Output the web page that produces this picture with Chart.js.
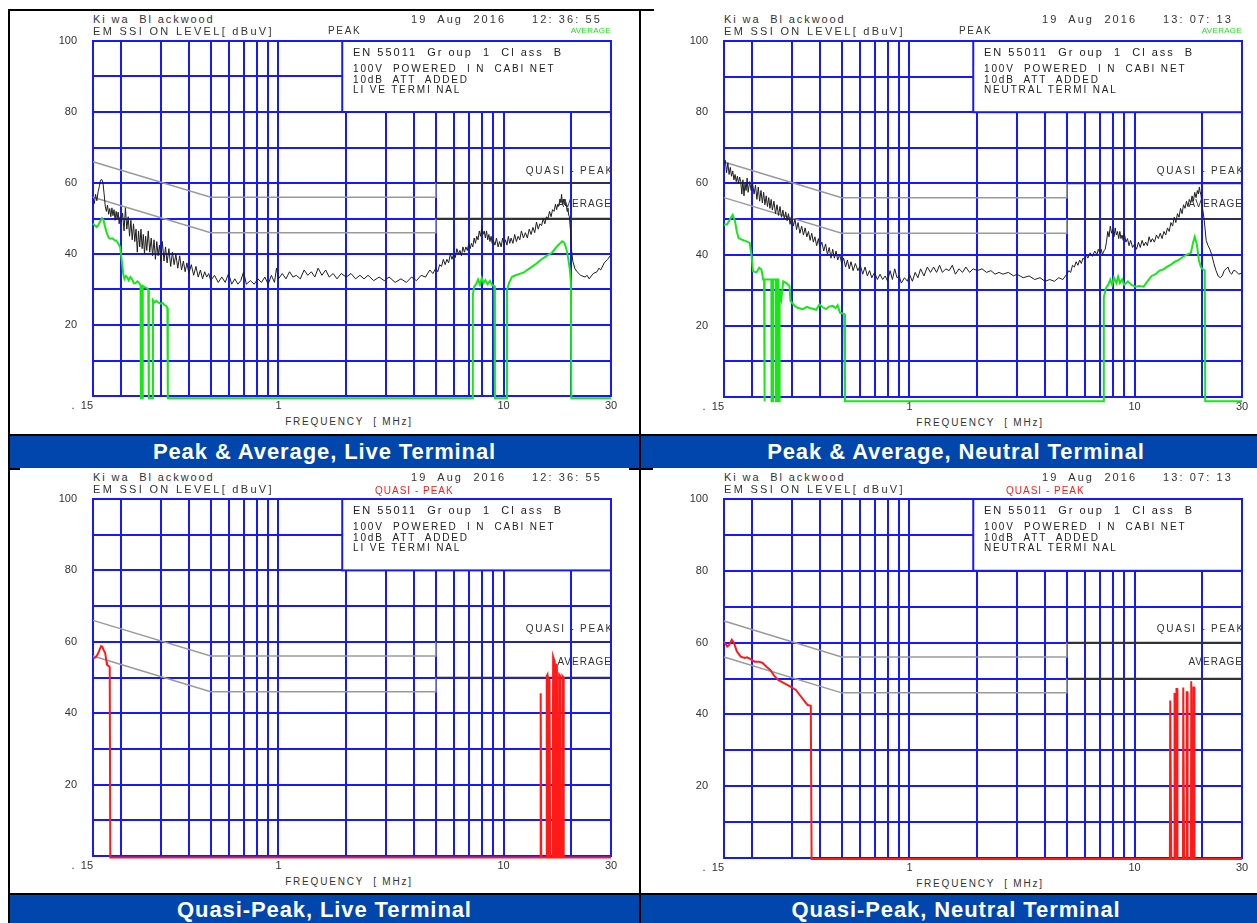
<!DOCTYPE html>
<html><head><meta charset="utf-8">
<script src="https://cdn.jsdelivr.net/npm/chart.js@4.4.1/dist/chart.umd.min.js"></script>
<style>
html,body{margin:0;padding:0;background:#fff;}
body{width:1257px;height:923px;position:relative;overflow:hidden;font-family:"Liberation Sans",Arial,sans-serif;}
canvas{position:absolute;}
.t{position:absolute;white-space:pre;line-height:1;color:#333;}
.hdr{font-size:11px;letter-spacing:2.1px;}
.box{font-size:11px;letter-spacing:2px;color:#222;}
.cap{position:absolute;background:#0046ad;color:#fff;font-weight:bold;font-size:22px;letter-spacing:0.9px;text-align:center;line-height:31px;}
.bl{position:absolute;background:#000;}
</style>
</head><body>
<canvas id="c0" width="588" height="380" style="left:33px;top:36px"></canvas>
<canvas id="c1" width="588" height="381" style="left:664px;top:36px"></canvas>
<canvas id="c2" width="588" height="382" style="left:33px;top:494px"></canvas>
<canvas id="c3" width="588" height="384" style="left:664px;top:494px"></canvas>
<script>
// ---- axis tick values / labels ----
const freqTicks = [0.15,0.2,0.3,0.4,0.5,0.6,0.7,0.8,0.9,1,2,3,4,5,6,7,8,9,10,20,30];
const freqTickLabels = {'0.15':'.  15       ','1':'1','10':'10','30':'30'};
const levelLabels = [20,40,60,80,100];

// ---- EN 55011 Class B limit lines [MHz, dBuV] ----
const qpLimit  = [[0.15,66],[0.5,56],[5,56],[5,60],[30,60]];
const avgLimit = [[0.15,56],[0.5,46],[5,46],[5,50],[30,50]];

// ---- Live terminal, peak (black) ----
const tlPeak = [[0.150,55.5],[0.152,54.2],[0.154,56.8],[0.156,55.0],[0.158,57.5],[0.160,59.0],[0.162,60.8],[0.164,61.0],[0.166,60.2],[0.168,57.0],[0.170,53.5],[0.172,52.0],[0.174,53.8],[0.176,51.2],[0.178,52.8],[0.180,50.5],[0.182,53.0],[0.184,50.8],[0.186,52.5],[0.188,49.5],[0.190,52.0],[0.192,50.0],[0.194,51.8],[0.196,48.5],[0.198,50.5],[0.200,49.0],[0.203,51.5],[0.206,46.5],[0.209,53.0],[0.212,47.0],[0.215,50.5],[0.218,45.0],[0.221,49.5],[0.224,44.0],[0.227,48.5],[0.230,43.5],[0.233,47.0],[0.236,40.5],[0.239,46.5],[0.242,42.0],[0.245,47.0],[0.248,41.5],[0.251,45.5],[0.254,40.0],[0.257,45.0],[0.260,41.0],[0.264,46.5],[0.268,40.5],[0.272,44.5],[0.276,39.5],[0.280,44.0],[0.284,38.5],[0.288,43.5],[0.292,39.5],[0.296,42.5],[0.300,38.0],[0.305,43.5],[0.310,38.0],[0.315,42.0],[0.320,37.5],[0.326,41.5],[0.332,36.5],[0.338,40.5],[0.344,37.0],[0.350,40.0],[0.357,36.0],[0.364,39.5],[0.371,35.5],[0.378,38.0],[0.385,35.0],[0.392,37.5],[0.400,34.5],[0.41,37.0],[0.42,34.0],[0.43,36.5],[0.44,33.5],[0.45,35.5],[0.46,33.0],[0.47,35.0],[0.48,33.5],[0.49,34.5],[0.50,32.5],[0.52,34.0],[0.54,32.0],[0.56,33.5],[0.58,32.0],[0.60,34.5],[0.62,31.5],[0.64,33.0],[0.66,31.5],[0.68,32.5],[0.70,35.0],[0.72,31.5],[0.75,32.5],[0.78,31.5],[0.81,33.0],[0.84,32.0],[0.87,33.5],[0.90,31.5],[0.93,34.0],[0.96,32.0],[0.98,36.0],[1.00,33.0],[1.04,34.5],[1.08,33.0],[1.12,35.0],[1.16,33.5],[1.20,34.0],[1.25,33.0],[1.30,35.5],[1.35,34.0],[1.40,35.0],[1.45,33.5],[1.50,36.0],[1.56,34.0],[1.62,35.5],[1.68,33.5],[1.75,34.5],[1.82,33.0],[1.90,34.5],[2.00,33.5],[2.1,34.5],[2.2,33.0],[2.3,34.0],[2.4,33.0],[2.5,34.0],[2.65,32.5],[2.8,33.5],[2.95,32.5],[3.1,33.5],[3.3,32.0],[3.5,33.0],[3.7,32.0],[3.9,33.5],[4.1,32.5],[4.3,34.0],[4.5,33.5],[4.7,35.5],[4.85,34.5],[5.0,36.0],[5.1,35.0],[5.2,37.0],[5.3,36.5],[5.4,38.5],[5.5,37.0],[5.6,38.5],[5.7,37.5],[5.8,40.0],[5.9,38.5],[6.0,40.0],[6.1,39.0],[6.2,41.5],[6.3,40.0],[6.4,41.0],[6.5,39.5],[6.6,42.0],[6.7,40.5],[6.8,42.0],[6.9,41.0],[7.0,43.0],[7.1,41.5],[7.2,43.0],[7.3,42.0],[7.4,44.5],[7.5,43.0],[7.6,45.0],[7.7,44.0],[7.8,46.5],[7.9,45.0],[8.0,47.5],[8.1,45.5],[8.2,46.5],[8.3,44.5],[8.4,46.5],[8.5,44.0],[8.6,45.5],[8.7,43.5],[8.8,45.0],[8.9,43.0],[9.0,44.0],[9.15,42.5],[9.3,44.5],[9.45,42.0],[9.6,43.5],[9.75,42.0],[9.9,44.5],[10.05,42.5],[10.2,44.0],[10.35,42.5],[10.5,45.0],[10.65,43.0],[10.8,44.5],[11.0,43.0],[11.2,45.5],[11.4,43.5],[11.6,45.0],[11.8,44.0],[12.0,46.5],[12.25,44.5],[12.5,46.0],[12.75,44.5],[13.0,47.0],[13.25,45.5],[13.5,47.5],[13.75,46.0],[14.0,49.0],[14.25,47.0],[14.5,48.5],[14.75,48.0],[15.0,50.0],[15.25,48.5],[15.5,50.5],[15.75,50.0],[16.0,52.0],[16.25,50.5],[16.5,52.5],[16.75,52.0],[17.0,54.0],[17.2,52.5],[17.4,54.0],[17.6,53.5],[17.8,55.5],[17.95,54.5],[18.1,56.8],[18.25,54.0],[18.4,55.5],[18.55,54.0],[18.7,55.5],[18.85,53.5],[19.0,54.0],[19.15,52.0],[19.3,53.0],[19.45,51.0],[19.6,50.5],[19.8,47.0],[20.0,41.5],[20.3,38.0],[20.7,36.0],[21.2,35.0],[22.0,34.0],[23.0,33.5],[23.5,34.0],[24.0,33.0],[25.0,34.5],[26.0,35.0],[26.5,36.0],[27.0,35.5],[28.0,37.5],[29.0,38.5],[30.0,39.8]];

// ---- Live terminal, average (green) ----
const tlAvg = [[0.150,48.6],[0.153,48.0],[0.156,47.6],[0.159,48.3],[0.162,49.4],[0.1645,50.1],[0.167,49.6],[0.170,47.5],[0.173,45.8],[0.176,44.6],[0.179,44.3],[0.183,44.4],[0.187,43.9],[0.190,43.8],[0.194,43.0],[0.198,42.0],[0.201,38.5],[0.2046,34.2],[0.207,33.0],[0.210,33.8],[0.213,33.4],[0.216,32.6],[0.220,33.5],[0.224,32.8],[0.228,31.7],[0.232,31.8],[0.236,32.3],[0.240,31.9],[0.244,31.2],[0.2447,-0.6],[0.249,-0.6],[0.2495,31.0],[0.255,30.6],[0.260,30.4],[0.264,30.0],[0.2655,-0.6],[0.2765,-0.6],[0.277,27.0],[0.282,26.4],[0.287,26.8],[0.293,26.3],[0.300,26.0],[0.306,26.2],[0.312,25.6],[0.317,25.4],[0.321,24.8],[0.3225,-0.6],[7.25,-0.6],[7.30,28.5],[7.40,30.8],[7.55,31.5],[7.7,32.8],[7.85,31.4],[8.0,33.2],[8.15,31.8],[8.3,32.6],[8.5,31.5],[8.7,32.4],[8.9,31.2],[9.1,31.0],[9.15,-0.6],[10.3,-0.6],[10.35,29.8],[10.6,32.0],[10.9,33.6],[11.3,34.0],[11.8,34.4],[12.3,34.8],[12.8,35.6],[13.3,36.3],[13.8,37.0],[14.3,37.8],[14.8,38.6],[15.3,39.2],[15.8,39.8],[16.3,40.2],[16.8,41.2],[17.3,42.2],[17.8,43.0],[18.2,43.6],[18.6,43.2],[19.0,41.5],[19.4,38.5],[19.7,35.5],[19.9,32.0],[20.0,-0.6],[30,-0.6]];

// ---- Neutral terminal, peak (black) ----
const trPeak = [[0.150,65.5],[0.152,66.5],[0.154,63.0],[0.156,65.8],[0.158,62.5],[0.160,64.5],[0.162,62.0],[0.164,63.5],[0.166,61.0],[0.168,62.5],[0.170,60.5],[0.172,62.0],[0.174,60.0],[0.176,61.8],[0.178,60.5],[0.180,57.0],[0.182,61.0],[0.184,56.5],[0.186,60.0],[0.188,58.0],[0.190,61.5],[0.192,57.5],[0.195,60.5],[0.198,58.0],[0.201,60.0],[0.204,57.0],[0.207,59.5],[0.210,55.5],[0.213,59.0],[0.216,55.0],[0.219,58.0],[0.222,54.5],[0.225,57.5],[0.228,54.0],[0.231,56.5],[0.234,53.5],[0.237,56.0],[0.240,53.0],[0.243,55.5],[0.246,52.5],[0.250,55.0],[0.254,51.5],[0.258,54.0],[0.262,51.0],[0.266,53.5],[0.270,50.5],[0.274,52.5],[0.278,50.0],[0.282,52.0],[0.286,49.5],[0.290,51.5],[0.295,48.5],[0.300,51.0],[0.305,48.0],[0.310,50.0],[0.315,47.0],[0.320,49.0],[0.326,46.0],[0.332,48.0],[0.338,45.5],[0.344,47.5],[0.350,45.0],[0.356,46.5],[0.362,44.0],[0.368,46.0],[0.374,43.5],[0.380,45.0],[0.387,42.5],[0.394,44.5],[0.400,42.0],[0.408,43.5],[0.416,41.0],[0.424,43.0],[0.432,40.0],[0.440,42.0],[0.448,39.0],[0.456,41.5],[0.464,39.0],[0.472,41.0],[0.480,38.5],[0.490,40.0],[0.500,37.5],[0.510,39.0],[0.520,36.5],[0.530,38.5],[0.540,36.0],[0.550,38.0],[0.562,35.5],[0.575,37.5],[0.590,35.5],[0.605,37.0],[0.620,34.5],[0.635,36.5],[0.650,34.0],[0.665,35.5],[0.680,33.5],[0.700,35.0],[0.720,33.0],[0.740,34.5],[0.760,33.0],[0.780,34.0],[0.800,32.5],[0.820,35.5],[0.840,33.0],[0.860,36.0],[0.880,33.5],[0.900,34.0],[0.920,32.0],[0.950,33.5],[0.980,32.5],[1.00,34.5],[1.03,32.5],[1.06,35.0],[1.09,33.5],[1.12,36.0],[1.16,34.0],[1.20,36.5],[1.24,35.0],[1.28,36.5],[1.32,35.0],[1.36,37.0],[1.40,35.0],[1.45,36.0],[1.50,35.5],[1.55,37.0],[1.60,34.5],[1.66,36.0],[1.72,35.0],[1.78,36.5],[1.85,35.0],[1.92,36.0],[2.00,35.5],[2.1,36.0],[2.2,35.0],[2.3,35.5],[2.4,34.5],[2.5,35.0],[2.6,34.5],[2.75,35.0],[2.9,34.0],[3.0,34.5],[3.2,33.5],[3.4,34.0],[3.6,33.0],[3.8,33.5],[4.0,32.5],[4.2,33.0],[4.4,32.5],[4.6,33.5],[4.8,33.0],[5.0,34.5],[5.1,35.5],[5.2,35.0],[5.3,37.0],[5.4,36.5],[5.5,38.0],[5.6,37.0],[5.7,38.5],[5.8,37.5],[5.9,39.0],[6.0,38.5],[6.1,40.0],[6.2,39.0],[6.35,40.5],[6.5,39.5],[6.65,41.0],[6.8,40.0],[6.9,41.5],[7.0,40.5],[7.1,41.5],[7.2,40.0],[7.3,41.0],[7.4,41.5],[7.5,43.5],[7.6,46.5],[7.7,45.0],[7.8,48.0],[7.9,46.0],[8.0,47.0],[8.1,45.0],[8.2,47.5],[8.3,45.5],[8.4,46.5],[8.5,44.5],[8.6,46.5],[8.7,44.5],[8.8,45.5],[8.9,44.0],[9.0,46.0],[9.15,43.5],[9.3,44.5],[9.45,42.5],[9.6,44.0],[9.8,42.0],[10.0,43.0],[10.2,41.5],[10.4,43.5],[10.6,42.0],[10.8,44.0],[11.0,42.5],[11.2,43.5],[11.4,42.5],[11.6,45.0],[11.8,43.5],[12.0,44.5],[12.25,43.5],[12.5,45.5],[12.75,44.5],[13.0,46.0],[13.25,44.5],[13.5,46.5],[13.75,45.5],[14.0,47.5],[14.25,46.5],[14.5,49.0],[14.75,48.0],[15.0,50.5],[15.25,49.0],[15.5,51.5],[15.75,50.5],[16.0,53.0],[16.25,51.5],[16.5,54.0],[16.75,53.0],[17.0,55.0],[17.25,53.5],[17.5,55.5],[17.75,54.5],[18.0,56.5],[18.25,55.0],[18.5,57.5],[18.75,56.0],[19.0,58.0],[19.2,57.0],[19.4,59.0],[19.55,57.5],[19.7,57.0],[20.0,53.5],[20.4,49.5],[20.8,44.0],[21.2,42.5],[21.6,41.5],[22.0,40.0],[22.5,37.5],[23.0,35.5],[23.5,34.0],[24.0,33.5],[24.5,34.0],[25.0,35.5],[25.5,36.0],[26.0,36.5],[26.5,35.0],[27.0,34.5],[27.5,35.5],[28.0,35.5],[29.0,34.5],[30.0,34.8]];

// ---- Neutral terminal, average (green) ----
const trAvg = [[0.150,48.4],[0.155,48.5],[0.159,49.8],[0.164,51.2],[0.168,49.3],[0.171,46.5],[0.174,44.7],[0.180,44.2],[0.189,43.7],[0.195,43.3],[0.199,39.5],[0.202,35.3],[0.209,35.0],[0.215,36.3],[0.220,35.8],[0.224,33.0],[0.226,33.0],[0.2262,-1.2],[0.2275,-1.2],[0.228,33.0],[0.239,33.0],[0.2435,33.0],[0.244,-1.2],[0.247,-1.2],[0.2476,33.0],[0.2544,33.0],[0.255,-1.2],[0.2575,-1.2],[0.258,33.0],[0.2615,33.0],[0.262,-1.2],[0.264,-1.2],[0.265,30.0],[0.2696,27.5],[0.275,32.5],[0.284,32.0],[0.293,31.2],[0.296,27.0],[0.309,25.6],[0.320,25.0],[0.336,24.7],[0.350,25.3],[0.360,25.0],[0.372,24.8],[0.385,24.5],[0.398,26.0],[0.412,25.2],[0.426,24.7],[0.440,25.4],[0.456,25.6],[0.470,25.0],[0.4796,25.8],[0.491,23.7],[0.513,23.3],[0.517,-1.2],[7.28,-1.2],[7.30,28.0],[7.45,30.5],[7.63,31.5],[7.8,33.0],[7.95,31.5],[8.1,33.5],[8.3,32.0],[8.45,33.8],[8.61,32.0],[8.8,33.0],[9.0,31.5],[9.34,32.5],[9.7,31.5],[10.1,31.0],[10.5,31.2],[10.97,31.0],[11.4,32.5],[11.9,34.0],[12.4,34.5],[12.9,35.5],[13.4,35.8],[13.97,36.6],[14.5,37.2],[15.1,38.0],[15.7,38.5],[16.4,39.4],[17.1,40.0],[17.8,40.5],[18.2,43.5],[18.5,45.0],[18.9,43.0],[19.3,38.5],[19.7,36.5],[20.0,36.0],[20.5,35.5],[20.6,-1.2],[30,-1.2]];

// ---- Quasi-peak (red) ----
const blQp = [[0.150,55.4],[0.154,55.6],[0.158,56.7],[0.161,58.0],[0.163,58.8],[0.165,58.6],[0.167,57.8],[0.170,56.8],[0.172,54.5],[0.173,53.6],[0.177,53.1],[0.178,53.0],[0.179,-0.4],[14.55,-0.4],[14.58,45.6],[14.65,45.6],[14.7,-0.4],[15.5,-0.4],[15.55,50.5],[15.65,50.8],[15.7,-0.4],[15.85,-0.4],[15.9,49.5],[16.0,49.3],[16.1,-0.4],[16.5,-0.4],[16.6,55.8],[16.75,55.0],[16.85,-0.4],[17.05,-0.4],[17.1,53.6],[17.25,53.4],[17.35,-0.4],[17.6,-0.4],[17.65,50.8],[17.8,50.5],[17.9,-0.4],[18.2,-0.4],[18.25,50.4],[18.45,50.0],[18.5,-0.4],[30,-0.4]];
const brQp = [[0.150,60.3],[0.155,58.9],[0.158,59.3],[0.1625,60.8],[0.166,60.0],[0.171,57.6],[0.178,56.1],[0.1855,55.7],[0.190,55.9],[0.197,55.4],[0.205,54.7],[0.2136,54.7],[0.222,54.4],[0.2315,53.3],[0.241,52.4],[0.251,50.7],[0.261,49.6],[0.277,48.7],[0.2946,47.8],[0.313,46.8],[0.3255,45.4],[0.339,44.0],[0.353,42.6],[0.3645,42.4],[0.3675,-0.3],[14.35,-0.3],[14.4,43.9],[14.5,43.9],[14.55,-0.3],[15.0,-0.3],[15.05,45.7],[15.15,45.7],[15.25,-0.3],[15.3,-0.3],[15.35,47.1],[15.45,47.1],[15.5,-0.3],[16.4,-0.3],[16.45,47.5],[16.55,47.5],[16.6,-0.3],[17.0,-0.3],[17.05,46.2],[17.15,46.2],[17.2,-0.3],[17.8,-0.3],[17.85,49.2],[17.95,49.2],[18.0,-0.3],[18.2,-0.3],[18.25,47.5],[18.4,47.5],[18.45,-0.3],[30,-0.3]];

// ---- panel texts ----
const panelTitles = ['Peak & Average, Live Terminal','Peak & Average, Neutral Terminal','Quasi-Peak, Live Terminal','Quasi-Peak, Neutral Terminal'];
const panelTimes = ['12: 36: 55','13: 07: 13','12: 36: 55','13: 07: 13'];
const panelTerminals = ['LI VE TERMI NAL','NEUTRAL TERMI NAL','LI VE TERMI NAL','NEUTRAL TERMI NAL'];

const BLUE = '#1818ff';
const GREEN = '#19e619';
const RED = '#ff1a1a';
const BOX_FREQ = 1.92;

Chart.defaults.font.family = '"Liberation Sans", Arial, sans-serif';

const boxPlugin = {
  id: 'infobox',
  beforeDatasetsDraw(chart) {
    const {ctx, scales: {x, y}} = chart;
    const x1 = x.getPixelForValue(BOX_FREQ), x2 = x.getPixelForValue(30);
    const y1 = y.getPixelForValue(100), y2 = y.getPixelForValue(80);
    ctx.save();
    ctx.fillStyle = '#fff';
    ctx.fillRect(x1, y1, x2 - x1, y2 - y1);
    ctx.strokeStyle = BLUE; ctx.lineWidth = 2;
    ctx.strokeRect(x1, y1, x2 - x1, y2 - y1);
    ctx.restore();
  }
};

function pts(a) { return a.map(p => ({x: p[0], y: p[1]})); }
const limitSeg = {borderColor: c => (c.p0.parsed.x >= 5 && c.p1.parsed.x > 5) ? '#333' : '#9a9a9a'};
function lineSet(arr, color, width, order) {
  return {data: pts(arr), borderColor: color, borderWidth: width, order: order, showLine: true,
          pointRadius: 0, tension: 0, clip: {left: 2, top: 2, right: 2, bottom: 6}};
}
function limitSets() {
  return [Object.assign(lineSet(qpLimit, '#9a9a9a', 1.5, 9), {segment: limitSeg}),
          Object.assign(lineSet(avgLimit, '#9a9a9a', 1.5, 9), {segment: limitSeg})];
}

function makeChart(id, datasets) {
  new Chart(document.getElementById(id), {
    type: 'scatter',
    data: {datasets: datasets},
    options: {
      responsive: false, animation: false, devicePixelRatio: 1,
      layout: {padding: {top: 5, right: 10, left: 0, bottom: 0}},
      plugins: {legend: {display: false}, tooltip: {enabled: false}},
      scales: {
        x: {
          type: 'logarithmic', min: 0.15, max: 30,
          afterBuildTicks: ax => { ax.ticks = freqTicks.map(v => ({value: v})); },
          afterFit: ax => { ax.height = 20; ax.paddingLeft = 0; ax.paddingRight = 0; ax.paddingTop = 0; ax.paddingBottom = 0; },
          grid: {color: BLUE, lineWidth: 2, drawTicks: false},
          border: {color: BLUE, width: 2},
          ticks: {autoSkip: false, maxRotation: 0, padding: 3, color: '#333', font: {size: 11},
                  callback: v => freqTickLabels[String(v)] || ''}
        },
        y: {
          min: 0, max: 100,
          afterFit: ax => { ax.width = 60; ax.paddingTop = 0; ax.paddingBottom = 0; ax.paddingLeft = 0; ax.paddingRight = 0; },
          grid: {color: BLUE, lineWidth: 2, drawTicks: false},
          border: {color: BLUE, width: 2},
          ticks: {stepSize: 10, padding: 16, color: '#333', font: {size: 11},
                  callback: v => levelLabels.includes(v) ? String(v) : ''}
        }
      }
    },
    plugins: [boxPlugin]
  });
}

makeChart('c0', [...limitSets(), lineSet(tlPeak, '#1e1e1e', 1, 2), lineSet(tlAvg, GREEN, 2, 1)]);
makeChart('c1', [...limitSets(), lineSet(trPeak, '#1e1e1e', 1, 2), lineSet(trAvg, GREEN, 2, 1)]);
makeChart('c2', [...limitSets(), lineSet(blQp, RED, 2, 1)]);
makeChart('c3', [...limitSets(), lineSet(brQp, RED, 2, 1)]);

// ---- HTML text and frame ----
const plots = [
  {L: 93, T: 41, R: 611, B: 396},
  {L: 724, T: 41, R: 1242, B: 397},
  {L: 93, T: 499, R: 611, B: 856},
  {L: 724, T: 499, R: 1242, B: 858}
];
function txt(s, cls, opt) {
  const d = document.createElement('div');
  d.className = 't ' + cls;
  d.textContent = s;
  const fs = opt.fs || 11;
  d.style.fontSize = fs + 'px';
  d.style.top = (opt.cy - 0.5 * fs) + 'px';
  if (opt.left !== undefined) d.style.left = opt.left + 'px';
  if (opt.right !== undefined) d.style.right = (1257 - opt.right) + 'px';
  if (opt.cx !== undefined) { d.style.left = opt.cx + 'px'; d.style.transform = 'translateX(-50%)'; }
  if (opt.color) d.style.color = opt.color;
  if (opt.ls !== undefined) d.style.letterSpacing = opt.ls + 'px';
  document.body.appendChild(d);
  return d;
}
plots.forEach((p, i) => {
  const top = i < 2;
  txt('Ki wa  Bl ackwood', 'hdr', {left: p.L, cy: p.T - 21.5, ls: 1.9});
  txt('EM SSI ON LEVEL[ dBuV]', 'hdr', {left: p.L, cy: p.T - 9.7, ls: 2.3});
  txt('19  Aug  2016     ' + panelTimes[i], 'hdr', {right: p.L + 509, cy: p.T - 21.5, ls: 2.1});
  if (top) {
    txt('PEAK', 'hdr', {left: p.L + 235, cy: p.T - 9.7, fs: 10, ls: 1.7});
    txt('AVERAGE', 'hdr', {right: p.R, cy: p.T - 9.7, fs: 8, ls: 0.3, color: GREEN});
  } else {
    txt('QUASI - PEAK', 'hdr', {left: p.L + 282, cy: p.T - 8.5, fs: 10, color: RED, ls: 1});
  }
  const bx = p.L + 260;
  txt('EN 55011  Gr oup  1  Cl ass  B', 'box', {left: bx, cy: p.T + 11.5, fs: 11});
  txt('100V  POWERED  I N  CABI NET', 'box', {left: bx, cy: p.T + 28, fs: 10, ls: 1.85});
  txt('10dB  ATT  ADDED', 'box', {left: bx, cy: p.T + 38.5, fs: 10, ls: 1.85});
  txt(panelTerminals[i], 'box', {left: bx, cy: p.T + 49, fs: 10, ls: 1.85});
  txt('QUASI - PEAK', 'hdr', {right: p.R + 3, cy: p.T + 130, fs: 10, ls: 1.8});
  txt('AVERAGE', 'hdr', {right: p.R + 1, cy: p.T + 163, fs: 10, ls: 1});
  txt('FREQUENCY  [ MHz]', 'hdr', {cx: (p.L + p.R) / 2 - 3, cy: p.B + 25.5, fs: 10, ls: 1.8});
});

function rect(cls, l, t, w, h, text) {
  const d = document.createElement('div');
  d.className = cls;
  d.style.left = l + 'px'; d.style.top = t + 'px'; d.style.width = w + 'px'; d.style.height = h + 'px';
  if (text) d.textContent = text;
  document.body.appendChild(d);
  return d;
}
rect('cap', 10, 436, 629, 32, panelTitles[0]);
rect('cap', 641, 436, 630, 32, panelTitles[1]);
const c3 = rect('cap', 10, 895, 629, 30, panelTitles[2]); c3.style.lineHeight = '29px';
const c4 = rect('cap', 641, 895, 630, 30, panelTitles[3]); c4.style.lineHeight = '29px';
rect('bl', 8, 9, 632, 2);
rect('bl', 640, 9, 14, 2);
rect('bl', 8, 9, 2, 914);
rect('bl', 639, 9, 2, 914);
rect('bl', 8, 434, 1249, 2);
rect('bl', 8, 468, 12, 2);
rect('bl', 629, 468, 24, 2);
rect('bl', 8, 893, 1249, 2);
</script>
</body></html>
